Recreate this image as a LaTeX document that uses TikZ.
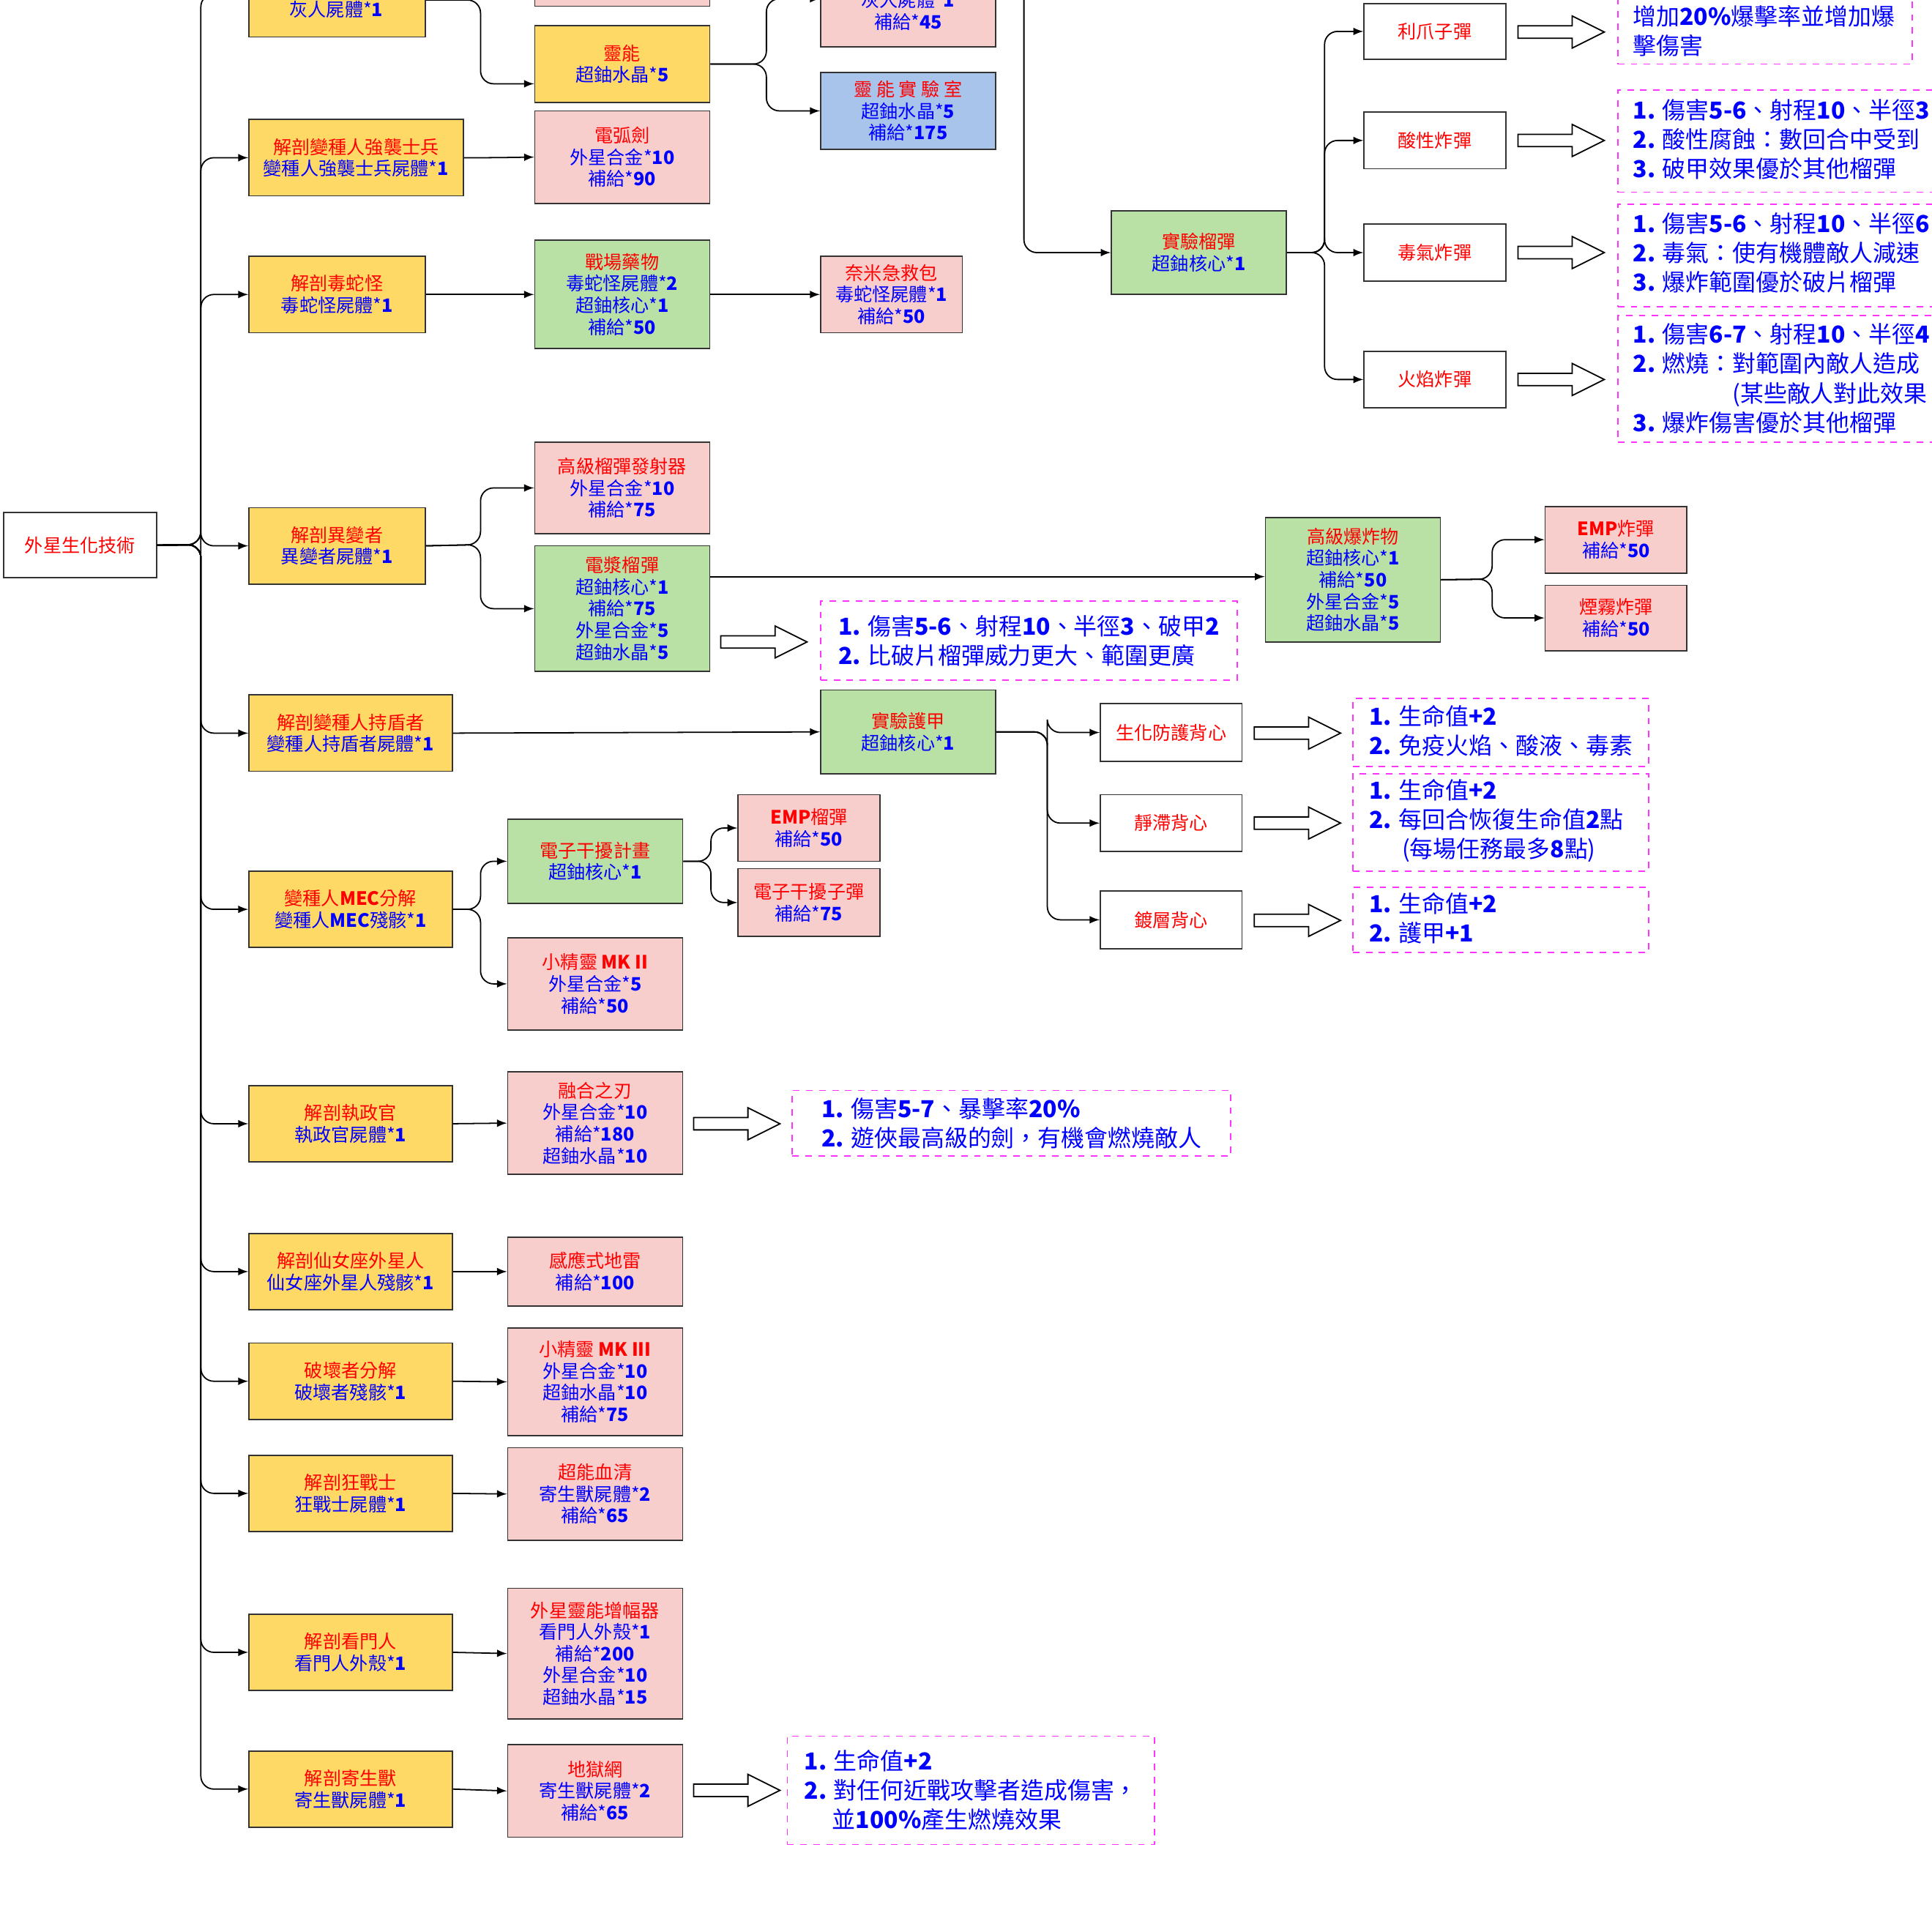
\documentclass[tikz,border=0pt]{standalone}
\usepackage{fontspec}
\setmainfont{Noto Sans CJK TC}
\usetikzlibrary{calc}
\definecolor{org}{HTML}{FFD966}
\definecolor{pnk}{HTML}{F8CECC}
\definecolor{grn}{HTML}{B9E0A5}
\definecolor{blu}{HTML}{A9C4EB}
\definecolor{mag}{HTML}{FF33FF}
\definecolor{tblue}{HTML}{0000FF}
\newcommand\bx[7]{\node[#6, minimum width={(#4-#2)*0.02cm}, minimum height={(#5-#3)*0.02cm}] (#1) at ({(#2+#4)/2},{(#3+#5)/2}) {#7};}
\newcommand\rd[1]{{\color{red}#1}}
\newcommand\barw[2]{\draw[black,fill=white,line width=0.6pt] (#1,#2-5) -- (#1+44,#2-5) -- (#1+44,#2-13) -- (#1+70,#2) -- (#1+44,#2+13) -- (#1+44,#2+5) -- (#1,#2+5) -- cycle;}
\tikzset{
 base/.style={draw=black!80,line width=0.6pt,inner sep=0pt,align=center,text=tblue,font=\fontsize{8.5}{10}\selectfont},
 ob/.style={base,fill=org}, pb/.style={base,fill=pnk}, gb/.style={base,fill=grn}, bb/.style={base,fill=blu},
 wb/.style={base,fill=white,text=red},
 db/.style={draw=mag,dashed,line width=0.6pt,inner sep=0pt,align=left,text=tblue,font=\fontsize{10.8}{13.6}\selectfont},
 dt/.style={anchor=north west,inner sep=0pt,text=tblue,font=\fontsize{10.8}{13.6}\selectfont,align=left},
 conn/.style={draw=black,line width=0.6pt,rounded corners=6pt,-latex},
}
\begin{document}
\begin{tikzpicture}[x=0.02cm,y=-0.02cm]
\useasboundingbox (0,0) rectangle (1568,1568);
\clip (0,0) rectangle (1568,1568);
% root
\bx{root}{3}{416}{127}{469}{wb}{外星生化技術}
% left column
\bx{A0}{202}{-40}{345}{30}{ob}{}
\node[inner sep=0pt,text=tblue,font=\fontsize{8.5}{10}\selectfont] (A0t) at (273,8) {灰人屍體*\textbf{1}};
\bx{A1}{202}{97}{376}{159}{ob}{\rd{解剖變種人強襲士兵}\\變種人強襲士兵屍體*\textbf{1}}
\bx{A2}{202}{208}{345}{270}{ob}{\rd{解剖毒蛇怪}\\毒蛇怪屍體*\textbf{1}}
\bx{A3}{202}{412}{345}{474}{ob}{\rd{解剖異變者}\\異變者屍體*\textbf{1}}
\bx{A4}{202}{564}{367}{626}{ob}{\rd{解剖變種人持盾者}\\變種人持盾者屍體*\textbf{1}}
\bx{A5}{202}{707}{367}{769}{ob}{\rd{變種人\textbf{MEC}分解}\\變種人\textbf{MEC}殘骸*\textbf{1}}
\bx{A6}{202}{881}{367}{943}{ob}{\rd{解剖執政官}\\執政官屍體*\textbf{1}}
\bx{A7}{202}{1001}{367}{1063}{ob}{\rd{解剖仙女座外星人}\\仙女座外星人殘骸*\textbf{1}}
\bx{A8}{202}{1090}{367}{1152}{ob}{\rd{破壞者分解}\\破壞者殘骸*\textbf{1}}
\bx{A9}{202}{1181}{367}{1243}{ob}{\rd{解剖狂戰士}\\狂戰士屍體*\textbf{1}}
\bx{A10}{202}{1310}{367}{1372}{ob}{\rd{解剖看門人}\\看門人外殼*\textbf{1}}
\bx{A11}{202}{1421}{367}{1483}{ob}{\rd{解剖寄生獸}\\寄生獸屍體*\textbf{1}}
\foreach \n in {A0,A1,A2,A3,A4,A5,A6,A7,A8,A9,A10,A11}{\draw[conn] (root.east) -- (163,442) |- (\n.west);}
% second column
\bx{B0}{434}{-30}{576}{5}{pb}{}
\bx{B1}{434}{21}{576}{83}{ob}{\rd{靈能}\\超鈾水晶*\textbf{5}}
\bx{B2}{434}{90}{576}{165}{pb}{\rd{電弧劍}\\外星合金*\textbf{10}\\補給*\textbf{90}}
\bx{B3}{434}{195}{576}{283}{gb}{\rd{戰場藥物}\\毒蛇怪屍體*\textbf{2}\\超鈾核心*\textbf{1}\\補給*\textbf{50}}
\draw[conn] (A0.east |- 345,0) -- (390,0) |- ([yshift=-0.32cm]B1.west);
\draw[conn] (A1.east) -- (400,128) -- (B2.west);
\draw[conn] (A2.east) -- (B3.west);
\bx{C1}{666}{-40}{808}{38}{pb}{}
\node[inner sep=0pt,text=tblue,font=\fontsize{8.5}{10}\selectfont,align=center] (C1t) at (737,9) {灰人屍體*\textbf{1}\\補給*\textbf{45}};
\bx{C2}{666}{59}{808}{121}{bb}{\rd{靈\ 能\ 實\ 驗\ 室}\\超鈾水晶*\textbf{5}\\補給*\textbf{175}}
\bx{C3}{666}{208}{781}{270}{pb}{\rd{奈米急救包}\\毒蛇怪屍體*\textbf{1}\\補給*\textbf{50}}
\draw[conn] (B1.east) -- (622,52) |- (C1.west);
\draw[conn] (B1.east) -- (622,52) |- (C2.west);
\draw[conn] (B3.east |- 0,239) -- (C3.west);
% experimental grenade
\coordinate (topin) at (831,-20);
\bx{G}{902}{171}{1044}{239}{gb}{\rd{實驗榴彈}\\超鈾核心*\textbf{1}}
\draw[conn] (topin) |- (G.west);
\bx{G1}{1107}{3}{1222}{48}{wb}{利爪子彈}
\bx{G2}{1107}{91}{1222}{137}{wb}{酸性炸彈}
\bx{G3}{1107}{182}{1222}{228}{wb}{毒氣炸彈}
\bx{G4}{1107}{285}{1222}{331}{wb}{火焰炸彈}
\foreach \n in {G1,G2,G3,G4}{\draw[conn] (G.east) -- (1075,205) |- (\n.west);}
\barw{1232}{26}\barw{1232}{114}\barw{1232}{205}\barw{1232}{308}
\bx{D1}{1313}{-10}{1552}{52}{db}{}
\node[dt] at (1325,4) {增加\textbf{20\%}爆擊率並增加爆\\擊傷害};
\bx{D2}{1313}{73}{1610}{156}{db}{}
\node[dt] at (1325,80) {\textbf{1.} 傷害\textbf{5-6}、射程\textbf{10}、半徑\textbf{3}\\\textbf{2.} 酸性腐蝕：數回合中受到\\\textbf{3.} 破甲效果優於其他榴彈};
\bx{D3}{1313}{166}{1610}{249}{db}{}
\node[dt] at (1325,172) {\textbf{1.} 傷害\textbf{5-6}、射程\textbf{10}、半徑\textbf{6}\\\textbf{2.} 毒氣：使有機體敵人減速\\\textbf{3.} 爆炸範圍優於破片榴彈};
\bx{D4}{1313}{256}{1610}{359}{db}{}
\node[dt] at (1325,262) {\textbf{1.} 傷害\textbf{6-7}、射程\textbf{10}、半徑\textbf{4}\\\textbf{2.} 燃燒：對範圍內敵人造成\\\hspace{4.25em}(某些敵人對此效果\\\textbf{3.} 爆炸傷害優於其他榴彈};
% mutator
\bx{E1}{434}{359}{576}{433}{pb}{\rd{高級榴彈發射器}\\外星合金*\textbf{10}\\補給*\textbf{75}}
\bx{E2}{434}{443}{576}{545}{gb}{\rd{電漿榴彈}\\超鈾核心*\textbf{1}\\補給*\textbf{75}\\外星合金*\textbf{5}\\超鈾水晶*\textbf{5}}
\draw[conn] (A3.east) -- (390,442) |- (E1.west);
\draw[conn] (A3.east) -- (390,442) |- (E2.west);
\bx{E3}{1027}{420}{1169}{521}{gb}{\rd{高級爆炸物}\\超鈾核心*\textbf{1}\\補給*\textbf{50}\\外星合金*\textbf{5}\\超鈾水晶*\textbf{5}}
\draw[conn] (E2.east |- 0,468) -- (E3.west |- 0,468);
\bx{E4}{1254}{411}{1369}{465}{pb}{\rd{\textbf{EMP}炸彈}\\補給*\textbf{50}}
\bx{E5}{1254}{475}{1369}{528}{pb}{\rd{煙霧炸彈}\\補給*\textbf{50}}
\draw[conn] (E3.east) -- (1211,470) |- (E4.west);
\draw[conn] (E3.east) -- (1211,470) |- (E5.west);
\barw{585}{521}
\bx{D5}{666}{488}{1004}{552}{db}{\textbf{1.} 傷害\textbf{5-6}、射程\textbf{10}、半徑\textbf{3}、破甲\textbf{2}\\\textbf{2.} 比破片榴彈威力更大、範圍更廣}
% armor
\bx{F}{666}{560}{808}{628}{gb}{\rd{實驗護甲}\\超鈾核心*\textbf{1}}
\draw[conn] (A4.east) -- (F.west);
\bx{F1}{893}{571}{1008}{618}{wb}{生化防護背心}
\bx{F2}{893}{645}{1008}{691}{wb}{靜滯背心}
\bx{F3}{893}{723}{1008}{770}{wb}{鍍層背心}
\foreach \n in {F1,F2,F3}{\draw[conn] (F.east) -- (850,594) |- (\n.west);}
\barw{1018}{595}\barw{1018}{668}\barw{1018}{747}
\bx{D6}{1098}{567}{1338}{622}{db}{}
\node[dt] at (1111,572) {\textbf{1.} 生命值\textbf{+2}\\\textbf{2.} 免疫火焰、酸液、毒素};
\bx{D7}{1098}{628}{1338}{707}{db}{}
\node[dt] at (1111,632) {\textbf{1.} 生命值\textbf{+2}\\\textbf{2.} 每回合恢復生命值\textbf{2}點\\\hspace{1.4em}(每場任務最多\textbf{8}點)};
\bx{D8}{1098}{720}{1338}{773}{db}{}
\node[dt] at (1111,724) {\textbf{1.} 生命值\textbf{+2}\\\textbf{2.} 護甲\textbf{+1}};
% MEC
\bx{H1}{412}{665}{554}{733}{gb}{\rd{電子干擾計畫}\\超鈾核心*\textbf{1}}
\bx{H2}{412}{761}{554}{836}{pb}{\rd{小精靈 \textbf{MK II}}\\外星合金*\textbf{5}\\補給*\textbf{50}}
\draw[conn] (A5.east) -- (390,738) |- (H1.west);
\draw[conn] (A5.east) -- (390,738) |- (H2.west);
\bx{H3}{599}{645}{714}{699}{pb}{\rd{\textbf{EMP}榴彈}\\補給*\textbf{50}}
\bx{H4}{599}{705}{714}{760}{pb}{\rd{電子干擾子彈}\\補給*\textbf{75}}
\draw[conn] (H1.east) -- (577,699) |- (H3.west);
\draw[conn] (H1.east) -- (577,699) |- (H4.west);
% rest
\bx{K6}{412}{870}{554}{953}{pb}{\rd{融合之刃}\\外星合金*\textbf{10}\\補給*\textbf{180}\\超鈾水晶*\textbf{10}}
\draw[conn] (A6.east) -- (K6.west);
\barw{563}{912}
\bx{D9}{643}{885}{999}{938}{db}{\textbf{1.} 傷害\textbf{5-7}、暴擊率\textbf{20\%}\\\textbf{2.} 遊俠最高級的劍，有機會燃燒敵人}
\bx{K7}{412}{1004}{554}{1060}{pb}{\rd{感應式地雷}\\補給*\textbf{100}}
\draw[conn] (A7.east) -- (K7.west);
\bx{K8}{412}{1078}{554}{1165}{pb}{\rd{小精靈 \textbf{MK III}}\\外星合金*\textbf{10}\\超鈾水晶*\textbf{10}\\補給*\textbf{75}}
\draw[conn] (A8.east) -- (K8.west);
\bx{K9}{412}{1175}{554}{1250}{pb}{\rd{超能血清}\\寄生獸屍體*\textbf{2}\\補給*\textbf{65}}
\draw[conn] (A9.east) -- (K9.west);
\bx{K10}{412}{1289}{554}{1395}{pb}{\rd{外星靈能增幅器}\\看門人外殼*\textbf{1}\\補給*\textbf{200}\\外星合金*\textbf{10}\\超鈾水晶*\textbf{15}}
\draw[conn] (A10.east) -- (K10.west);
\bx{K11}{412}{1416}{554}{1491}{pb}{\rd{地獄網}\\寄生獸屍體*\textbf{2}\\補給*\textbf{65}}
\draw[conn] (A11.east) -- (K11.west);
\barw{563}{1453}
\bx{D10}{639}{1409}{937}{1497}{db}{\textbf{1.} 生命值\textbf{+2}\\\textbf{2.} 對任何近戰攻擊者造成傷害，\\\hspace{1.2em}並\textbf{100\%}產生燃燒效果}
\end{tikzpicture}
\end{document}
